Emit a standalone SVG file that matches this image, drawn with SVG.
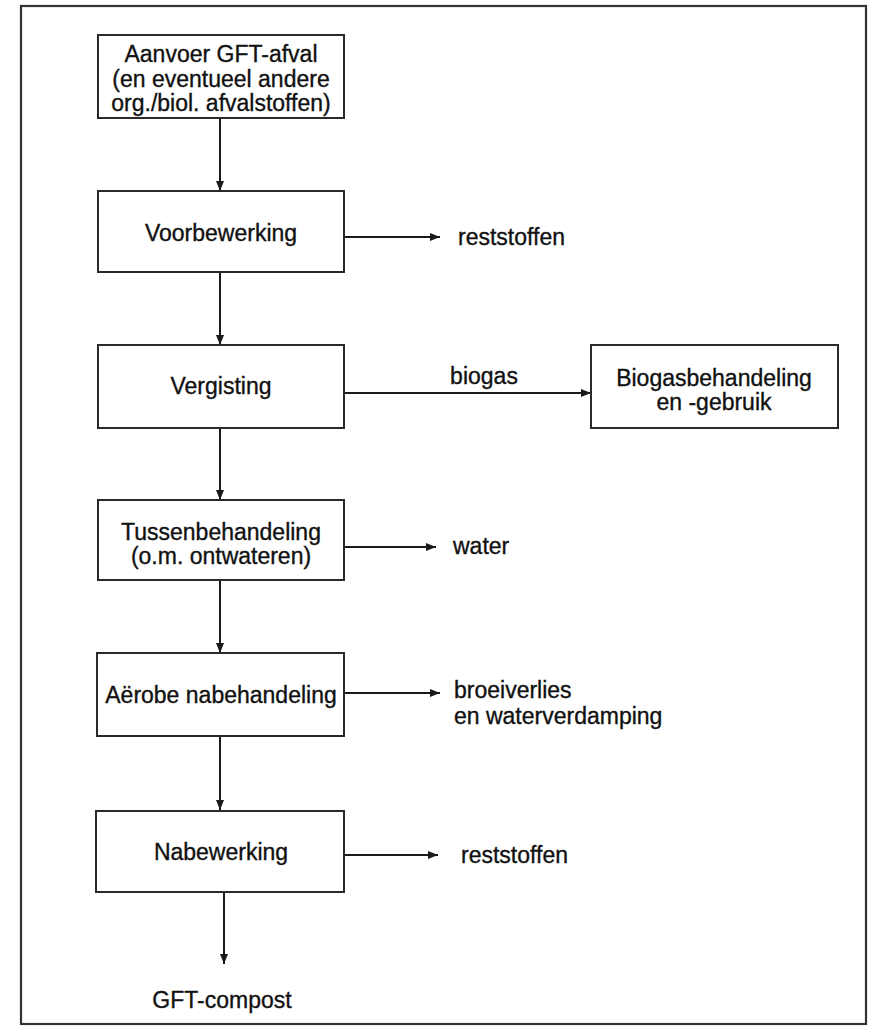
<svg xmlns="http://www.w3.org/2000/svg" width="871" height="1028" viewBox="0 0 871 1028">
<defs>
<marker id="arr" viewBox="0 0 10 10" refX="10" refY="5" markerWidth="10" markerHeight="10" markerUnits="userSpaceOnUse" orient="auto">
<path d="M0,1 L10,5 L0,9 Z" fill="#1a1a1a"/>
</marker>
<style>
.box{fill:#fff;stroke:#2a2a2a;stroke-width:2}
.t{font-family:"Liberation Sans",Arial,sans-serif;font-size:23px;fill:#111;stroke:#111;stroke-width:0.35}
.c{text-anchor:middle}
.ln{stroke:#1a1a1a;stroke-width:2;fill:none;marker-end:url(#arr)}
</style>
</defs>
<rect x="0" y="0" width="871" height="1028" fill="#fff"/>
<rect x="21" y="6" width="845" height="1018" fill="none" stroke="#333" stroke-width="2.2"/>
<g id="connectors">
<line class="ln" x1="220" y1="118" x2="220" y2="191"/>
<line class="ln" x1="344" y1="237" x2="440" y2="237"/>
<line class="ln" x1="220" y1="272" x2="220" y2="345"/>
<line class="ln" x1="344" y1="393" x2="591" y2="393"/>
<line class="ln" x1="220" y1="428" x2="220" y2="500"/>
<line class="ln" x1="344" y1="547" x2="436" y2="547"/>
<line class="ln" x1="220" y1="580" x2="220" y2="653"/>
<line class="ln" x1="344" y1="693" x2="440" y2="693"/>
<line class="ln" x1="220" y1="736" x2="220" y2="810"/>
<line class="ln" x1="344" y1="855" x2="438" y2="855"/>
<line class="ln" x1="224" y1="892" x2="224" y2="964"/>
</g>
<g id="n-aanvoer">
<rect class="box" x="98" y="35" width="246" height="83"/>
<text class="t c" x="221" y="62">Aanvoer GFT-afval</text>
<text class="t c" x="221" y="87">(en eventueel andere</text>
<text class="t c" x="221" y="111">org./biol. afvalstoffen)</text>
</g>
<g id="n-voorbewerking">
<rect class="box" x="98" y="191" width="246" height="81"/>
<text class="t c" x="221" y="241">Voorbewerking</text>
</g>
<g id="l-reststoffen1"><text class="t" x="458" y="245">reststoffen</text></g>
<g id="n-vergisting">
<rect class="box" x="98" y="345" width="246" height="83"/>
<text class="t c" x="221" y="394">Vergisting</text>
</g>
<g id="l-biogas"><text class="t c" x="484" y="384">biogas</text></g>
<g id="n-biogasbehandeling">
<rect class="box" x="591" y="345" width="247" height="83"/>
<text class="t c" x="714" y="386">Biogasbehandeling</text>
<text class="t c" x="714" y="410">en -gebruik</text>
</g>
<g id="n-tussenbehandeling">
<rect class="box" x="98" y="500" width="246" height="80"/>
<text class="t c" x="221" y="540">Tussenbehandeling</text>
<text class="t c" x="221" y="564">(o.m. ontwateren)</text>
</g>
<g id="l-water"><text class="t" x="453" y="554">water</text></g>
<g id="n-aerobe">
<rect class="box" x="97" y="653" width="247" height="83"/>
<text class="t c" x="221" y="703">Aërobe nabehandeling</text>
</g>
<g id="l-broeiverlies">
<text class="t" x="454" y="698">broeiverlies</text>
<text class="t" x="454" y="724">en waterverdamping</text>
</g>
<g id="n-nabewerking">
<rect class="box" x="96" y="811" width="248" height="81"/>
<text class="t c" x="221" y="860">Nabewerking</text>
</g>
<g id="l-reststoffen2"><text class="t" x="461" y="863">reststoffen</text></g>
<g id="l-compost"><text class="t c" x="222" y="1008">GFT-compost</text></g>
</svg>
